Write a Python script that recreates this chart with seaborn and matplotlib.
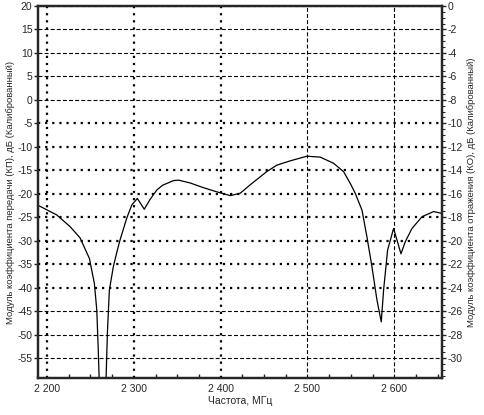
import numpy as np
import pandas as pd
import seaborn as sns
import matplotlib.pyplot as plt
from matplotlib.ticker import FuncFormatter, MultipleLocator

# Curve values (frequency, MHz / level, dB on the left axis)
freq = [2190, 2211, 2226.5, 2238, 2248.8, 2254.5, 2257.3, 2259, 2260, 2263.5,
        2268, 2269.5, 2271.8, 2276.4, 2281, 2284, 2291.8, 2297.6, 2304, 2312,
        2318.7, 2326.5, 2333, 2345.6, 2351.4, 2364.8, 2380, 2395.6, 2411, 2422.5,
        2434, 2453, 2464.8, 2480, 2499.4, 2514.7, 2530, 2541.6, 2549.3, 2555,
        2562.8, 2568.5, 2574.3, 2580, 2585, 2587.7, 2592.3, 2599.2, 2607.7, 2612.7,
        2620.4, 2631.9, 2645.3, 2655]
level = [-22.5, -24.5, -27.0, -29.4, -33.8, -39.1, -44.8, -53.3, -59.3, -66,
         -59.3, -49.7, -40.5, -35.5, -32.0, -29.9, -25.2, -22.4, -21.0, -23.3,
         -21.2, -19.2, -18.2, -17.2, -17.1, -17.7, -18.7, -19.6, -20.4, -19.9,
         -18.1, -15.3, -13.9, -13.0, -12.0, -12.2, -13.5, -15.3, -17.8, -19.9,
         -23.5, -29.2, -35.6, -42.6, -47.3, -40.5, -32.0, -27.4, -32.8, -30.2,
         -27.4, -24.9, -23.8, -24.2]

x_ticks = [2200, 2300, 2400, 2500, 2600]
left_ticks = list(range(20, -56, -5))
right_ticks = list(range(0, -31, -2))

df = pd.DataFrame({"freq": freq, "level": level})

sns.set_style("white")
plt.rcParams['font.family'] = ['Liberation Sans', 'DejaVu Sans']
plt.rcParams['axes.unicode_minus'] = False

fig = plt.figure(figsize=(4.85, 4.15), dpi=100)
ax = fig.add_axes([0.0784, 0.0892, 0.833, 0.8963])

xmin, xmax = 2189.6, 2655
ymin, ymax = -59.26, 20
ax.set_xlim(xmin, xmax)
ax.set_ylim(ymin, ymax)

# grid: dotted in the middle band, dashed elsewhere (as in the reference)
for v in left_ticks:
    if -40 <= v <= -5:
        ax.axhline(v, color='black', lw=1.6, ls=(0, (1, 2.2)), zorder=0)
    else:
        ax.axhline(v, color='black', lw=0.8, ls=(0, (3.5, 2)), zorder=0)
for v in x_ticks:
    if v <= 2400:
        ax.axvline(v, color='black', lw=1.6, ls=(0, (1, 2.2)), zorder=0)
    else:
        ax.axvline(v, color='black', lw=0.8, ls=(0, (3.5, 2)), zorder=0)

sns.lineplot(data=df, x="freq", y="level", ax=ax, color='black', lw=0.9,
             estimator=None, sort=False)

fmt = FuncFormatter(lambda v, p: f"{int(v):,}".replace(",", " "))
ax.set_xticks(x_ticks)
ax.xaxis.set_major_formatter(fmt)
ax.xaxis.set_minor_locator(MultipleLocator(25))
ax.set_yticks(left_ticks)
ax.tick_params(axis='x', which='major', direction='inout', length=5, width=1, labelsize=7.5, pad=2)
ax.tick_params(axis='x', which='minor', direction='in', length=3, width=1, bottom=True)
ax.tick_params(axis='y', which='major', direction='out', length=3, width=1, labelsize=7.5, pad=1)
for s in ax.spines.values():
    s.set_linewidth(1.6)
    s.set_color('black')

ax.set_xlabel("Частота, МГц", fontsize=7.5, labelpad=1)
ax.set_ylabel("Модуль коэффициента передачи (КП), дБ (Калиброванный)", fontsize=6.8, labelpad=2)

ax2 = ax.twinx()
ax2.set_ylim((ymin - 20) * 0.4, 0)
ax2.set_yticks(right_ticks)
ax2.yaxis.set_minor_locator(MultipleLocator(0.5))
ax2.tick_params(axis='y', which='major', direction='out', length=3, width=1, labelsize=7.5, pad=1)
ax2.tick_params(axis='y', which='minor', direction='out', length=2, width=0.8)
for s in ax2.spines.values():
    s.set_linewidth(1.6)
ax2.set_ylabel("Модуль коэффициента отражения (КО), дБ (Калиброванный)", fontsize=6.8, labelpad=3)

fig.savefig("out.png", dpi=100)
